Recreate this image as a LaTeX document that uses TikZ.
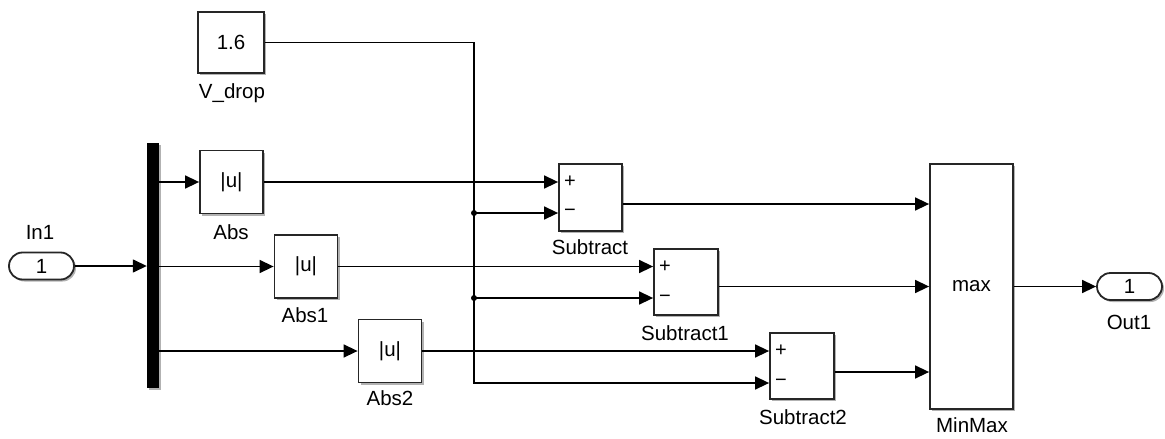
\documentclass[tikz,border=0pt]{standalone}
\usepackage{fontspec}
\setmainfont{Liberation Sans}
\usetikzlibrary{arrows.meta,shapes.misc,shadows}
\tikzset{
  sh/.style={drop shadow={shadow xshift=2pt,shadow yshift=-2pt,opacity=.3,fill=black}},
  blk/.style={draw=black!85,line width=1.8pt,fill=white,minimum width=63,minimum height=63,inner sep=0pt,font=\fontsize{20.5}{20.5}\selectfont,sh},
  lbl/.style={font=\fontsize{20.5}{20.5}\selectfont,inner sep=0pt},
  sgn/.style={font=\fontsize{20}{20}\selectfont,inner sep=0pt},
  port/.style={rounded rectangle,draw=black!85,line width=1.8pt,fill=white,minimum width=65,minimum height=27,inner sep=0pt,font=\fontsize{20.5}{20.5}\selectfont,sh},
  wire/.style={line width=1.5pt},
  sig/.style={line width=1.5pt,-{Triangle[length=14pt,width=13pt]}},
}
\begin{document}
\begin{tikzpicture}[x=1pt,y=-1pt]
\useasboundingbox (0,0) rectangle (1165,439);
% blocks
\node[blk,minimum width=66,minimum height=61] (vd) at (231,42.5) {1.6};
\node[lbl] (vdl) at (232,93) {V\_drop};
\node[fill=black,minimum width=12,minimum height=245,inner sep=0pt,sh] (dm) at (153,265.5) {};
\node[port] (in) at (41.5,266) {1};
\node[lbl] (inl) at (40,232) {In1};
\node[blk] (a0) at (231.5,182) {|u|};
\node[lbl] (a0l) at (231,232) {Abs};
\node[blk] (a1) at (306,266.5) {|u|};
\node[lbl] (a1l) at (305,315) {Abs1};
\node[blk] (a2) at (390,351) {|u|};
\node[lbl] (a2l) at (390,398) {Abs2};
\node[blk,minimum width=63,minimum height=67] (s0) at (590.5,197.5) {};
\node[lbl] (s0l) at (590,247) {Subtract};
\node[blk,minimum width=64,minimum height=66] (s1) at (686,282) {};
\node[lbl] (s1l) at (685,333) {Subtract1};
\node[blk,minimum width=64,minimum height=66] (s2) at (802,366) {};
\node[lbl] (s2l) at (803,417) {Subtract2};
\node[sgn] (s0p) at (570,182) {+};
\node[sgn] (s0m) at (570,213) {−};
\node[sgn] (s1p) at (665,267) {+};
\node[sgn] (s1m) at (665,299) {−};
\node[sgn] (s2p) at (781,351) {+};
\node[sgn] (s2m) at (781,383) {−};
\node[blk,minimum width=83,minimum height=245] (mm) at (971.5,286.5) {max};
\node[lbl] (mml) at (972,425) {MinMax};
\node[port] (out) at (1129.5,286.5) {1};
\node[lbl] (outl) at (1129,322) {Out1};
% coordinates
\coordinate (j0) at (474,213);
\coordinate (j1) at (474,298);
\coordinate (j2) at (474,383);
\coordinate (m0) at (mm.west |- 0,204);
\coordinate (m1) at (mm.west |- 0,286.5);
\coordinate (m2) at (mm.west |- 0,372);
% connectors
\draw[sig] (in.east) -- (in.east -| dm.west);
\draw[sig] (dm.east |- a0.west) -- (a0.west);
\draw[sig] (dm.east |- a1.west) -- (a1.west);
\draw[sig] (dm.east |- a2.west) -- (a2.west);
\draw[sig] (a0.east) -- (s0.west |- a0.east);
\draw[sig] (a1.east) -- (s1.west |- a1.east);
\draw[sig] (a2.east) -- (s2.west |- a2.east);
\draw[sig] (vd.east) -| (j2) -- (s2.west |- j2);
\draw[sig] (j0) -- (s0.west |- j0);
\draw[sig] (j1) -- (s1.west |- j1);
\fill (j0) circle (3);
\fill (j1) circle (3);
\draw[sig] (s0.east |- m0) -- (m0);
\draw[sig] (s1.east |- m1) -- (m1);
\draw[sig] (s2.east |- m2) -- (m2);
\draw[sig] (mm.east) -- (out.west);
\end{tikzpicture}
\end{document}
